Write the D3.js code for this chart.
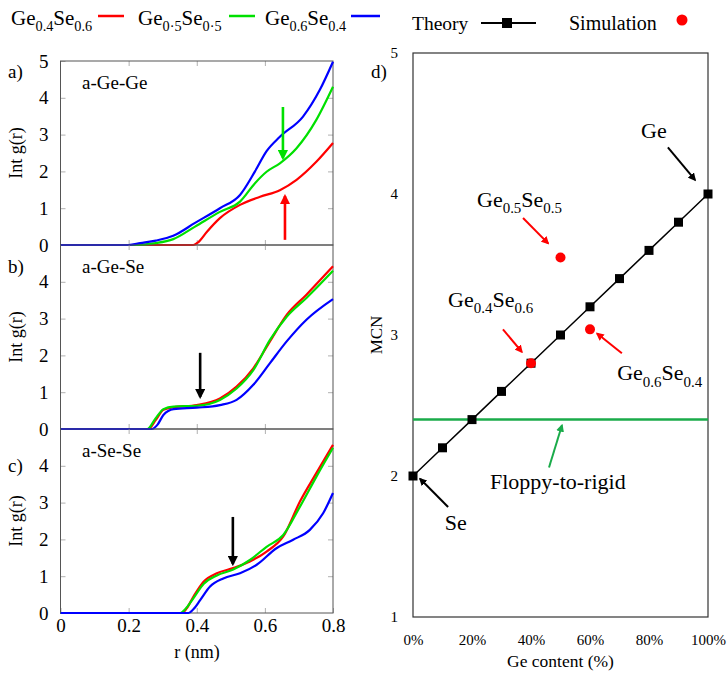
<!DOCTYPE html>
<html>
<head>
<meta charset="utf-8">
<script src="https://cdn.jsdelivr.net/npm/d3@7"></script>
<style>
body { margin: 0; background: #fff; }
svg text { font-family: "Liberation Serif", "Times New Roman", Times, "DejaVu Serif", serif; fill: #000; }
</style>
</head>
<body>
<script>
// integrated g(r): [r (nm), value]
var geGe04 = [[0,0],[0.39,0],[0.405,0.08],[0.43,0.36],[0.468,0.73],[0.527,1.09],[0.586,1.31],[0.644,1.49],[0.693,1.77],[0.751,2.26],[0.8,2.77]];
var geGe05 = [[0,0],[0.22,0],[0.28,0.05],[0.331,0.16],[0.395,0.5],[0.468,0.9],[0.527,1.18],[0.571,1.68],[0.605,1.99],[0.644,2.22],[0.693,2.63],[0.751,3.40],[0.8,4.30]];
var geGe06 = [[0,0],[0.2,0],[0.234,0.05],[0.28,0.12],[0.331,0.25],[0.395,0.6],[0.468,1.0],[0.527,1.36],[0.571,2.0],[0.605,2.55],[0.644,2.94],[0.712,3.49],[0.761,4.21],[0.8,4.98]];

var geSe04 = [[0,0],[0.258,0],[0.28,0.25],[0.302,0.52],[0.332,0.59],[0.4,0.65],[0.468,0.83],[0.517,1.15],[0.566,1.65],[0.615,2.38],[0.664,3.10],[0.722,3.65],[0.8,4.42]];
var geSe05 = [[0,0],[0.255,0],[0.278,0.27],[0.302,0.54],[0.332,0.61],[0.4,0.63],[0.468,0.79],[0.517,1.10],[0.566,1.6],[0.615,2.42],[0.664,3.05],[0.722,3.56],[0.8,4.30]];
var geSe06 = [[0,0],[0.268,0],[0.285,0.12],[0.302,0.38],[0.332,0.54],[0.4,0.58],[0.468,0.65],[0.517,0.79],[0.566,1.2],[0.615,1.79],[0.664,2.38],[0.722,2.97],[0.8,3.53]];

var seSe04 = [[0,0],[0.356,0],[0.37,0.12],[0.39,0.44],[0.42,0.85],[0.459,1.08],[0.507,1.22],[0.556,1.40],[0.605,1.67],[0.654,2.08],[0.703,3.03],[0.751,3.80],[0.8,4.57]];
var seSe05 = [[0,0],[0.352,0],[0.366,0.1],[0.39,0.40],[0.42,0.79],[0.459,1.02],[0.507,1.18],[0.556,1.44],[0.605,1.80],[0.654,2.12],[0.703,2.89],[0.751,3.70],[0.8,4.49]];
var seSe06 = [[0,0],[0.376,0],[0.39,0.1],[0.41,0.35],[0.439,0.72],[0.478,0.94],[0.527,1.08],[0.576,1.31],[0.634,1.76],[0.683,1.99],[0.732,2.26],[0.771,2.71],[0.8,3.26]];

var rTicks = [0, 0.2, 0.4, 0.6, 0.8];

// MCN panel
var geContent = [0,10,20,30,40,50,60,70,80,90,100];
var mcnTheory = [2,2.2,2.4,2.6,2.8,3.0,3.2,3.4,3.6,3.8,4.0];
var simContent = [40, 50, 60];
var simMcn = [2.8, 3.55, 3.04];
var floppyRigid = 2.4;
var contentTicks = [0,20,40,60,80,100];
var mcnTicks = [1,2,3,4,5];

var RED = "#ff0000", GREEN = "#00e000", BLUE = "#0000ff", DGREEN = "#1aab4a";
var FONT = "'Liberation Serif', 'Times New Roman', Times, 'DejaVu Serif', serif";

var svg = d3.select("body").append("svg")
    .attr("width", 728)
    .attr("height", 673)
    .attr("font-family", FONT);

// arrow heads
var defs = svg.append("defs");
[["red",RED],["green",GREEN],["black","#000"],["dgreen",DGREEN]].forEach(function(c) {
  defs.append("marker")
      .attr("id", "arr-" + c[0])
      .attr("viewBox", "0 0 10 10")
      .attr("refX", 8).attr("refY", 5)
      .attr("markerWidth", 4).attr("markerHeight", 4)
      .attr("orient", "auto")
    .append("path")
      .attr("d", "M0,0 L10,5 L0,10 z")
      .attr("fill", c[1]);
});

// chemical formula with subscripts
function formula(sel, parts, size) {
  var down = false;
  parts.forEach(function(p) {
    var ts = sel.append("tspan").text(p[0]);
    if (p[1] && !down) { ts.attr("dy", size * 0.3); down = true; }
    else if (!p[1] && down) { ts.attr("dy", -size * 0.3); down = false; }
    if (p[1]) ts.style("font-size", (size * 0.68) + "px");
  });
}

function arrow(g, x1, y1, x2, y2, color, id, w) {
  g.append("line")
      .attr("x1", x1).attr("y1", y1).attr("x2", x2).attr("y2", y2)
      .attr("stroke", color)
      .attr("stroke-width", w)
      .attr("marker-end", "url(#arr-" + id + ")");
}

// ---- left panels ----
var x = d3.scaleLinear().domain([0, 0.8]).range([60.5, 333]);
var panelH = 184;

var panels = [
  {tag: "a)", tagY: 78, name: "a-Ge-Ge", top: 61, series: [geGe04, geGe05, geGe06],
   arrows: [[0.653, 3.75, 0.653, 2.36, GREEN, "green"], [0.659, 0.14, 0.659, 1.33, RED, "red"]]},
  {tag: "b)", tagY: 273, name: "a-Ge-Se", top: 245, series: [geSe04, geSe05, geSe06],
   arrows: [[0.41, 2.07, 0.41, 0.87, "#000", "black"]]},
  {tag: "c)", tagY: 472, name: "a-Se-Se", top: 429, series: [seSe04, seSe05, seSe06],
   arrows: [[0.506, 2.61, 0.506, 1.33, "#000", "black"]]}
];
var colors = [RED, GREEN, BLUE];

panels.forEach(function(p, i) {
  var y = d3.scaleLinear().domain([0, 5]).range([p.top + panelH, p.top]);
  var g = svg.append("g");

  var yl = g.append("g").attr("transform", "translate(" + x(0) + ",0)")
      .call(d3.axisLeft(y).tickValues(i === 0 ? [0,1,2,3,4,5] : [0,1,2,3,4]).tickSize(-5).tickPadding(12)
        .tickFormat(d3.format("d")));
  var yr = g.append("g").attr("transform", "translate(" + x(0.8) + ",0)")
      .call(d3.axisRight(y).tickValues([1,2,3,4]).tickSize(-5).tickFormat(""));
  var xt = g.append("g").attr("transform", "translate(0," + y(5) + ")")
      .call(d3.axisTop(x).tickValues(rTicks.slice(1, 4)).tickSize(-5).tickFormat(""));
  var xb = g.append("g").attr("transform", "translate(0," + y(0) + ")")
      .call(d3.axisBottom(x).tickValues(i === 2 ? rTicks : rTicks.slice(1, 4)).tickSize(-5).tickPadding(6)
        .tickFormat(i === 2 ? d3.format("") : ""));
  [yl, yr, xt, xb].forEach(function(a) {
    a.attr("font-family", FONT);
    a.select(".domain").remove();
    a.selectAll(".tick line").attr("stroke", "#b0b0b0");
    a.selectAll("text").style("font-size", "19px").attr("fill", "#000");
  });

  g.append("rect")
      .attr("x", x(0)).attr("y", y(5))
      .attr("width", x(0.8) - x(0)).attr("height", y(0) - y(5))
      .attr("fill", "none").attr("stroke", "#555").attr("stroke-width", 1);

  var line = d3.line()
      .x(function(d) { return x(d[0]); })
      .y(function(d) { return y(d[1]); })
      .curve(d3.curveMonotoneX);

  p.series.forEach(function(s, k) {
    g.append("path")
        .datum(s)
        .attr("d", line)
        .attr("fill", "none")
        .attr("stroke", colors[k])
        .attr("stroke-width", 2.2);
  });

  p.arrows.forEach(function(a) {
    arrow(g, x(a[0]), y(a[1]), x(a[2]), y(a[3]), a[4], a[5], 2.6);
  });

  g.append("text").attr("x", 82).attr("y", p.top + 28)
      .style("font-size", "19px").text(p.name);
  g.append("text").attr("x", 8).attr("y", p.tagY)
      .style("font-size", "19px").text(p.tag);
  g.append("text")
      .attr("transform", "translate(22," + (p.top + panelH / 2) + ") rotate(-90)")
      .attr("text-anchor", "middle")
      .style("font-size", "18px").text("Int g(r)");
});

svg.append("text").attr("x", 197).attr("y", 658).attr("text-anchor", "middle")
    .style("font-size", "18px").text("r (nm)");

// ---- right panel ----
var x2 = d3.scaleLinear().domain([0, 100]).range([413, 708]);
var y2 = d3.scaleLinear().domain([1, 5]).range([617, 53]);
var rg = svg.append("g");

var ax = rg.append("g").attr("transform", "translate(0," + y2(1) + ")")
    .call(d3.axisBottom(x2).tickValues(contentTicks).tickSize(0).tickPadding(17)
      .tickFormat(function(d) { return d + "%"; }));
var ay = rg.append("g").attr("transform", "translate(" + x2(0) + ",0)")
    .call(d3.axisLeft(y2).tickValues(mcnTicks).tickSize(0).tickPadding(15).tickFormat(d3.format("d")));
[ax, ay].forEach(function(a) {
  a.attr("font-family", FONT);
  a.select(".domain").remove();
  a.selectAll("text").style("font-size", "15px").attr("fill", "#000");
});

rg.append("rect")
    .attr("x", x2(0)).attr("y", y2(5))
    .attr("width", x2(100) - x2(0)).attr("height", y2(1) - y2(5))
    .attr("fill", "none").attr("stroke", "#333").attr("stroke-width", 1.2);

rg.append("line")
    .attr("x1", x2(0)).attr("x2", x2(100))
    .attr("y1", y2(floppyRigid)).attr("y2", y2(floppyRigid))
    .attr("stroke", DGREEN).attr("stroke-width", 2.5);

var theory = geContent.map(function(c, i) { return [c, mcnTheory[i]]; });
rg.append("path")
    .datum(theory)
    .attr("d", d3.line().x(function(d) { return x2(d[0]); }).y(function(d) { return y2(d[1]); }))
    .attr("fill", "none").attr("stroke", "#000").attr("stroke-width", 1.5);
rg.selectAll(".sq").data(theory).enter().append("rect")
    .attr("x", function(d) { return x2(d[0]) - 4.5; })
    .attr("y", function(d) { return y2(d[1]) - 4.5; })
    .attr("width", 9).attr("height", 9).attr("fill", "#000");

rg.selectAll(".sim").data(simContent).enter().append("circle")
    .attr("cx", function(d) { return x2(d); })
    .attr("cy", function(d, i) { return y2(simMcn[i]); })
    .attr("r", 5).attr("fill", RED);

// annotations, in data units
var notes = [
  {x: 77.3, y: 4.40, parts: [["Ge", false]], ax: [86.4, 4.33, 95.6, 4.10], c: "#000", id: "black"},
  {x: 21.7, y: 3.91, parts: [["Ge",false],["0.5",true],["Se",false],["0.5",true]], ax: [37.3, 3.83, 45.8, 3.65], c: RED, id: "red"},
  {x: 11.9, y: 3.20, parts: [["Ge",false],["0.4",true],["Se",false],["0.6",true]], ax: [30.5, 3.04, 36.9, 2.88], c: RED, id: "red"},
  {x: 69.2, y: 2.68, parts: [["Ge",false],["0.6",true],["Se",false],["0.4",true]], ax: [70.8, 2.87, 62.4, 3.01], c: RED, id: "red"},
  {x: 26.1, y: 1.91, parts: [["Floppy-to-rigid", false]], ax: [46.1, 2.06, 50.5, 2.36], c: DGREEN, id: "dgreen"},
  {x: 10.8, y: 1.62, parts: [["Se", false]], ax: [11.9, 1.78, 2.4, 1.98], c: "#000", id: "black"}
];
notes.forEach(function(n) {
  var t = rg.append("text").attr("x", x2(n.x)).attr("y", y2(n.y)).style("font-size", "22px");
  formula(t, n.parts, 22);
  arrow(rg, x2(n.ax[0]), y2(n.ax[1]), x2(n.ax[2]), y2(n.ax[3]), n.c, n.id, 2);
});

rg.append("text").attr("x", 371).attr("y", 78).style("font-size", "19px").text("d)");
rg.append("text")
    .attr("transform", "translate(382," + y2(3) + ") rotate(-90)")
    .attr("text-anchor", "middle").style("font-size", "17px").text("MCN");
rg.append("text").attr("x", (x2(0) + x2(100)) / 2).attr("y", 667).attr("text-anchor", "middle")
    .style("font-size", "17.5px").text("Ge content (%)");

// ---- legend ----
var leg = svg.append("g");
var legItems = [
  {x: 11, parts: [["Ge",false],["0.4",true],["Se",false],["0.6",true]], lx: [98, 124], c: RED},
  {x: 138, parts: [["Ge",false],["0\u00b75",true],["Se",false],["0\u00b75",true]], lx: [229, 255], c: GREEN},
  {x: 265, parts: [["Ge",false],["0.6",true],["Se",false],["0.4",true]], lx: [351, 380], c: BLUE}
];
legItems.forEach(function(l) {
  var t = leg.append("text").attr("x", l.x).attr("y", 25).style("font-size", "21px");
  formula(t, l.parts, 21);
  leg.append("line").attr("x1", l.lx[0]).attr("x2", l.lx[1]).attr("y1", 16).attr("y2", 16)
      .attr("stroke", l.c).attr("stroke-width", 2.5);
});
leg.append("text").attr("x", 412).attr("y", 30).style("font-size", "19.5px").text("Theory");
leg.append("line").attr("x1", 481).attr("x2", 536).attr("y1", 23).attr("y2", 23)
    .attr("stroke", "#000").attr("stroke-width", 2);
leg.append("rect").attr("x", 502).attr("y", 18).attr("width", 10).attr("height", 10).attr("fill", "#000");
leg.append("text").attr("x", 569).attr("y", 30).style("font-size", "20px").text("Simulation");
leg.append("circle").attr("cx", 682).attr("cy", 20).attr("r", 5.5).attr("fill", RED);
</script>
</body>
</html>
